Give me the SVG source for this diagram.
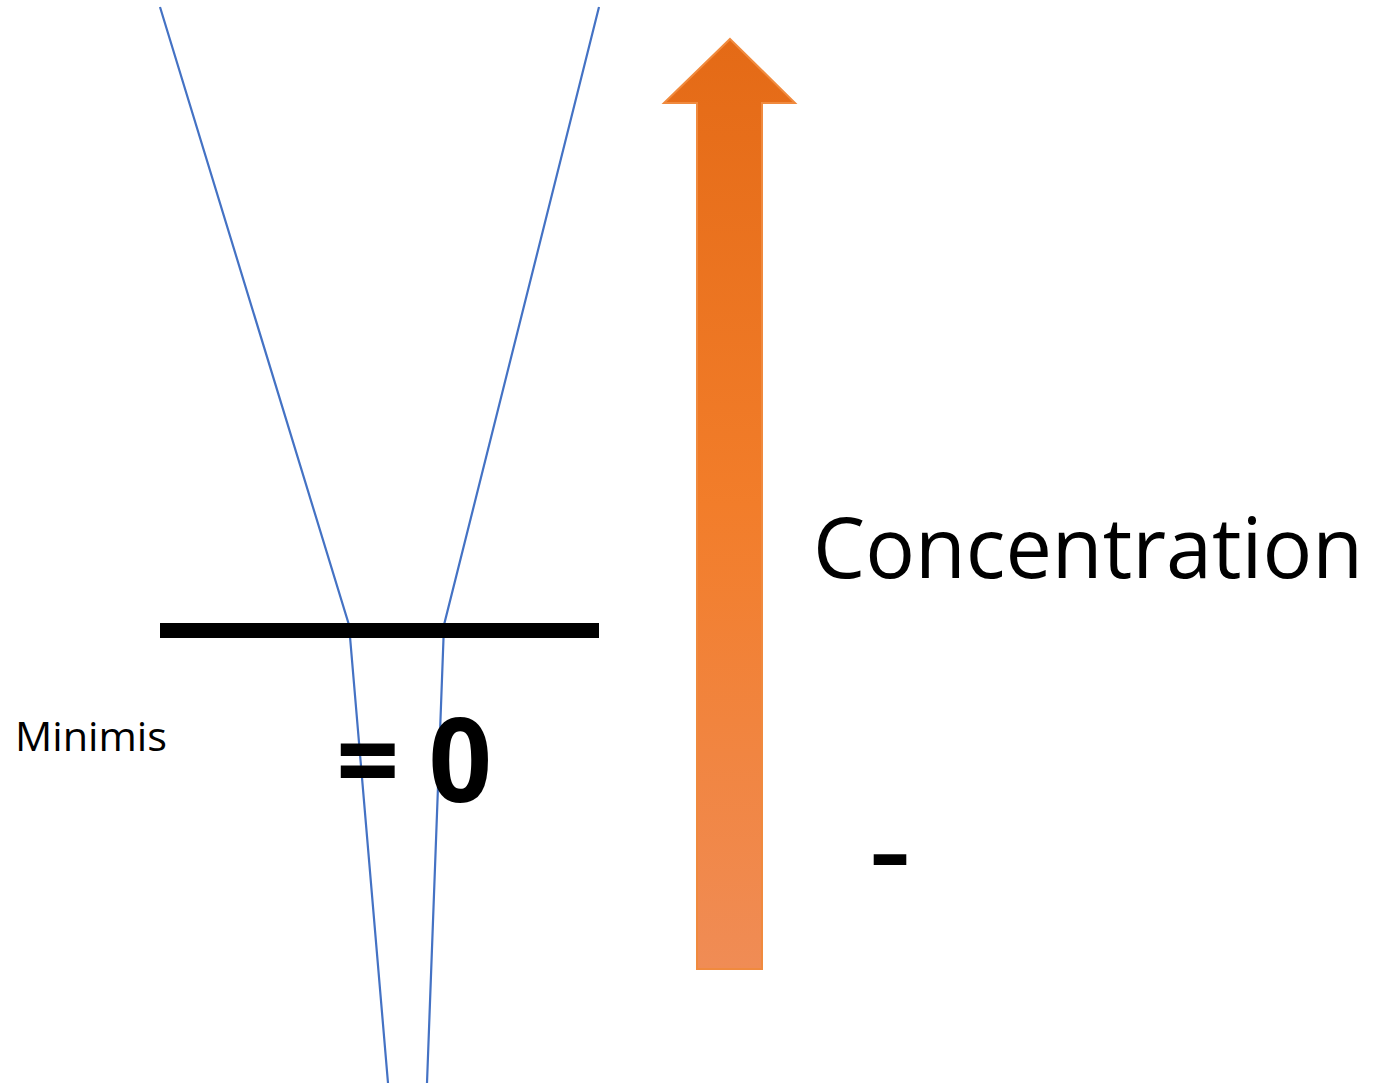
<svg xmlns="http://www.w3.org/2000/svg" width="1373" height="1085" viewBox="0 0 1373 1085">
<style>
.txt{font-family:"Open Sans","Liberation Sans",sans-serif;fill:#000}
.blue{stroke:#4472C4;stroke-width:2.2;fill:none}
</style>
<defs>
<linearGradient id="og" x1="0" y1="0" x2="0" y2="1">
<stop offset="0" stop-color="#E46A16"/>
<stop offset="0.5" stop-color="#F27D2A"/>
<stop offset="1" stop-color="#F08C55"/>
</linearGradient>
</defs>
<rect width="1373" height="1085" fill="#fff"/>
<g id="connectors">
<polyline class="blue" points="160,7 349,625 388,1083"/>
<polyline class="blue" points="599,7 444,625 427,1083"/>
</g>
<g id="bar"><rect x="160" y="623" width="439" height="15" fill="#000"/></g>
<g id="arrow"><polygon points="730,39 795,103 762,103 762,969 697,969 697,103 664,103" fill="url(#og)" stroke="#F08A3E" stroke-width="2"/></g>
<g id="minimis"><text class="txt" x="15" y="751" font-size="40" textLength="152" lengthAdjust="spacingAndGlyphs">Minimis</text></g>
<g id="eq0"><text class="txt" x="336" y="802" font-size="116" font-weight="bold" textLength="156" lengthAdjust="spacingAndGlyphs">= 0</text></g>
<g id="concentration"><text class="txt" x="813" y="578" font-size="84" textLength="550" lengthAdjust="spacingAndGlyphs">Concentration</text></g>
<g id="minus"><text class="txt" x="870" y="883" font-size="88" font-weight="bold" textLength="40" lengthAdjust="spacingAndGlyphs">-</text></g>
</svg>
